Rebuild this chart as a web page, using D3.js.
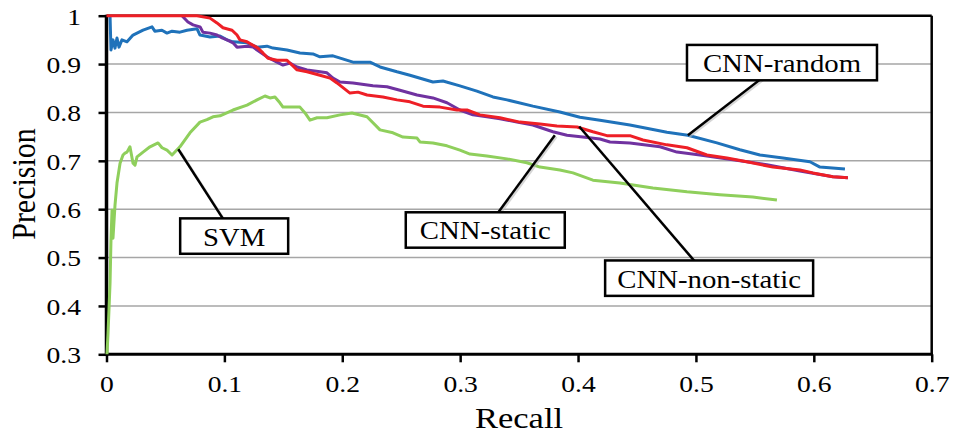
<!DOCTYPE html>
<html>
<head>
<meta charset="utf-8">
<script src="https://cdn.jsdelivr.net/npm/d3@7/dist/d3.min.js"></script>
<style>
  body { margin: 0; background: #fff; }
  svg { display: block; font-family: "Liberation Serif", "Times New Roman", serif; }
</style>
</head>
<body>
<div id="chart"></div>
<script>
// precision / recall curves as [recall, precision]
let cnnRandom = [
  [0.003, 1.0], [0.0038, 0.929], [0.0055, 0.95], [0.0072, 0.933], [0.0089, 0.954], [0.0106, 0.935],
  [0.0131, 0.95], [0.0174, 0.946], [0.0225, 0.96], [0.031, 0.97], [0.0386, 0.977], [0.041, 0.968],
  [0.047, 0.97], [0.0513, 0.964], [0.0556, 0.968], [0.0623, 0.966], [0.0683, 0.97], [0.0768, 0.973],
  [0.0793, 0.96], [0.0878, 0.956], [0.0963, 0.958], [0.1022, 0.95], [0.1073, 0.946], [0.1192, 0.944],
  [0.1277, 0.935], [0.1361, 0.937], [0.1412, 0.933], [0.1531, 0.929], [0.1641, 0.923], [0.1751, 0.921],
  [0.1811, 0.915], [0.1921, 0.917], [0.2091, 0.904], [0.2235, 0.904], [0.232, 0.894], [0.2464, 0.884],
  [0.2574, 0.877], [0.2769, 0.863], [0.2854, 0.865], [0.2998, 0.855], [0.3142, 0.844], [0.3278, 0.832],
  [0.3397, 0.826], [0.3617, 0.813], [0.3846, 0.801], [0.4016, 0.79], [0.4186, 0.784], [0.444, 0.774],
  [0.4754, 0.759], [0.4932, 0.753], [0.5178, 0.737], [0.5373, 0.723], [0.5543, 0.712], [0.5738, 0.706],
  [0.5967, 0.698], [0.6052, 0.687], [0.6264, 0.683]
];
let cnnNonStatic = [
  [0.0, 1.0], [0.0768, 1.0], [0.0878, 0.995], [0.0937, 0.985], [0.0988, 0.975], [0.1065, 0.97],
  [0.1107, 0.96], [0.1132, 0.95], [0.1192, 0.946], [0.1243, 0.939], [0.1285, 0.933], [0.1327, 0.923],
  [0.137, 0.912], [0.1446, 0.908], [0.1531, 0.908], [0.1573, 0.898], [0.1616, 0.888], [0.1701, 0.884],
  [0.1811, 0.877], [0.1896, 0.871], [0.1955, 0.861], [0.2065, 0.84], [0.2133, 0.842], [0.221, 0.836],
  [0.2345, 0.832], [0.2464, 0.826], [0.2574, 0.822], [0.2685, 0.813], [0.2829, 0.811], [0.2973, 0.805],
  [0.3058, 0.805], [0.3168, 0.795], [0.3338, 0.789], [0.3507, 0.78], [0.3677, 0.776], [0.3821, 0.772],
  [0.3991, 0.77], [0.4126, 0.76], [0.4245, 0.752], [0.444, 0.752], [0.4551, 0.743], [0.4754, 0.733],
  [0.4924, 0.727], [0.5093, 0.712], [0.5263, 0.706], [0.5432, 0.698], [0.5653, 0.687], [0.5882, 0.681],
  [0.5992, 0.675], [0.6162, 0.667], [0.6289, 0.665]
];
let cnnStatic = [
  [0.064, 1.0], [0.0691, 0.987], [0.0734, 0.981], [0.0793, 0.977], [0.0818, 0.966], [0.0878, 0.964],
  [0.0937, 0.96], [0.098, 0.954], [0.1022, 0.95], [0.1073, 0.944], [0.1107, 0.935], [0.1192, 0.937],
  [0.1243, 0.935], [0.1302, 0.925], [0.1361, 0.915], [0.1446, 0.904], [0.1497, 0.898], [0.1556, 0.902],
  [0.1616, 0.894], [0.1701, 0.888], [0.1811, 0.884], [0.187, 0.882], [0.1921, 0.871], [0.1981, 0.863],
  [0.2091, 0.861], [0.226, 0.855], [0.2379, 0.853], [0.2489, 0.846], [0.2634, 0.836], [0.2769, 0.83],
  [0.2888, 0.82], [0.2998, 0.805], [0.3108, 0.795], [0.3227, 0.791], [0.3338, 0.787], [0.3482, 0.78],
  [0.3617, 0.774], [0.3787, 0.76], [0.3906, 0.753], [0.4041, 0.749], [0.4186, 0.745], [0.4271, 0.739],
  [0.444, 0.737], [0.4695, 0.729], [0.4839, 0.718], [0.5034, 0.712], [0.5314, 0.702], [0.5602, 0.692],
  [0.5882, 0.679], [0.6162, 0.667], [0.6289, 0.665]
];
let svm = [
  [0.0004, 0.3], [0.0013, 0.344], [0.0021, 0.392], [0.003, 0.447], [0.0038, 0.536], [0.0047, 0.598],
  [0.0055, 0.54], [0.0072, 0.608], [0.0089, 0.654], [0.0115, 0.695], [0.014, 0.712], [0.0157, 0.716],
  [0.0174, 0.718], [0.0199, 0.729], [0.0225, 0.695], [0.0242, 0.691], [0.0259, 0.708], [0.031, 0.718],
  [0.0369, 0.729], [0.0437, 0.737], [0.0471, 0.727], [0.0513, 0.722], [0.0556, 0.712], [0.0623, 0.729],
  [0.0708, 0.758], [0.0793, 0.78], [0.0852, 0.785], [0.0903, 0.791], [0.0963, 0.793], [0.1073, 0.805],
  [0.1192, 0.815], [0.1277, 0.826], [0.1344, 0.834], [0.1387, 0.83], [0.1429, 0.832], [0.1471, 0.82],
  [0.1497, 0.811], [0.1582, 0.811], [0.1641, 0.811], [0.1684, 0.799], [0.1726, 0.784], [0.1786, 0.789],
  [0.187, 0.789], [0.1981, 0.795], [0.2082, 0.799], [0.221, 0.791], [0.232, 0.764], [0.243, 0.758],
  [0.2515, 0.749], [0.2634, 0.747], [0.2659, 0.739], [0.2769, 0.737], [0.2888, 0.731], [0.2998, 0.722],
  [0.3083, 0.714], [0.3227, 0.71], [0.3397, 0.704], [0.3566, 0.696], [0.3677, 0.687], [0.3846, 0.681],
  [0.3957, 0.675], [0.4126, 0.66], [0.4355, 0.654], [0.4635, 0.644], [0.4924, 0.636], [0.5203, 0.63],
  [0.5483, 0.625], [0.5687, 0.619]
];

let xTicks = [0, 0.1, 0.2, 0.3, 0.4, 0.5, 0.6, 0.7];
let yTicks = [0.3, 0.4, 0.5, 0.6, 0.7, 0.8, 0.9, 1];
let gridTicks = [0.4, 0.5, 0.6, 0.7, 0.8, 0.9];

// callouts: label, point on curve, centre of the box (both in data units)
let callouts = [
  { label: "CNN-random", point: [0.4932, 0.753], box: [0.573, 0.903], w: 190 },
  { label: "CNN-static", point: [0.3803, 0.753], box: [0.3213, 0.557], w: 159 },
  { label: "CNN-non-static", point: [0.401, 0.771], box: [0.5112, 0.4574], w: 208 },
  { label: "SVM", point: [0.0609, 0.724], box: [0.1083, 0.5444], w: 108 }
];

let width = 954, height = 437;
let plotLeft = 106.5, plotRight = 931.7, plotTop = 15.7, plotBottom = 354.3;
let stretch = 1.15; // the source figure is squashed a bit, text is wider than normal

let svg = d3.select("#chart").append("svg")
  .attr("width", width)
  .attr("height", height);

let x = d3.scaleLinear().domain([0, 0.7]).range([plotLeft, plotRight]);
let y = d3.scaleLinear().domain([0.3, 1]).range([plotBottom, plotTop]);

// grid
svg.append("g").selectAll("line")
  .data(gridTicks).enter().append("line")
  .attr("x1", plotLeft).attr("x2", plotRight)
  .attr("y1", d => y(d)).attr("y2", d => y(d))
  .attr("stroke", "#a6a6a6")
  .attr("stroke-width", 1.5);

// axes
let yAxis = svg.append("g")
  .attr("transform", "translate(" + plotLeft + ",0)")
  .call(d3.axisLeft(y).tickValues(yTicks).tickSize(8).tickFormat(d3.format("")));
let xAxis = svg.append("g")
  .attr("transform", "translate(0," + plotBottom + ")")
  .call(d3.axisBottom(x).tickValues(xTicks).tickSize(8).tickFormat(d3.format("")));

[yAxis, xAxis].forEach(function(a) {
  a.select(".domain").remove();
  a.selectAll(".tick line").attr("stroke", "#000").attr("stroke-width", 2.5);
  a.selectAll(".tick text")
    .attr("x", 0).attr("y", 0).attr("dy", null)
    .attr("fill", "#000")
    .style("font-family", "Liberation Serif, serif")
    .style("font-size", "24px");
});
yAxis.selectAll(".tick text")
  .attr("text-anchor", "end")
  .attr("transform", "translate(-25.5,8.4) scale(" + stretch + ",1)");
xAxis.selectAll(".tick text")
  .attr("text-anchor", "middle")
  .attr("transform", "translate(0,37.4) scale(" + stretch + ",1)");

// frame
svg.append("line").attr("x1", plotLeft).attr("x2", plotRight).attr("y1", plotTop).attr("y2", plotTop)
  .attr("stroke", "#000").attr("stroke-width", 2.5);
svg.append("line").attr("x1", plotRight).attr("x2", plotRight).attr("y1", plotTop).attr("y2", plotBottom)
  .attr("stroke", "#000").attr("stroke-width", 2.5);
svg.append("line").attr("x1", plotLeft).attr("x2", plotLeft).attr("y1", plotTop - 1).attr("y2", plotBottom + 1.5)
  .attr("stroke", "#000").attr("stroke-width", 3.5);
svg.append("line").attr("x1", plotLeft - 1.5).attr("x2", plotRight + 1.2).attr("y1", plotBottom).attr("y2", plotBottom)
  .attr("stroke", "#000").attr("stroke-width", 3);

// curves
let line = d3.line().x(d => x(d[0])).y(d => y(d[1]));
let series = [
  { data: svm, color: "#8fcf5c" },
  { data: cnnRandom, color: "#1f72ba" },
  { data: cnnStatic, color: "#7032a0" },
  { data: cnnNonStatic, color: "#ee1f26" }
];
svg.append("g").selectAll("path")
  .data(series).enter().append("path")
  .attr("d", d => line(d.data))
  .attr("fill", "none")
  .attr("stroke", d => d.color)
  .attr("stroke-width", 3)
  .attr("stroke-linejoin", "round");

// callouts with leader lines
let co = svg.append("g").selectAll("g")
  .data(callouts).enter().append("g");

co.append("line")
  .attr("x1", d => x(d.box[0]) + 1.5).attr("y1", d => y(d.box[1]) + 1.5)
  .attr("x2", d => x(d.point[0]) + 1.5).attr("y2", d => y(d.point[1]) + 1.5)
  .attr("stroke", "#bbb").attr("stroke-width", 2.5).attr("opacity", 0.6);
co.append("line")
  .attr("x1", d => x(d.box[0])).attr("y1", d => y(d.box[1]))
  .attr("x2", d => x(d.point[0])).attr("y2", d => y(d.point[1]))
  .attr("stroke", "#000").attr("stroke-width", 2.5);

co.append("rect")
  .attr("x", d => x(d.box[0]) - d.w / 2)
  .attr("y", d => y(d.box[1]) - 17.7)
  .attr("width", d => d.w)
  .attr("height", 35.4)
  .attr("fill", "#fff")
  .attr("stroke", "#000")
  .attr("stroke-width", 2.5);

co.append("text")
  .attr("text-anchor", "middle")
  .attr("transform", d => "translate(" + x(d.box[0]) + "," + (y(d.box[1]) + 9.5) + ") scale(" + stretch + ",1)")
  .style("font-size", "25px")
  .attr("fill", "#000")
  .text(d => d.label);

// axis titles
svg.append("text")
  .attr("text-anchor", "middle")
  .attr("transform", "translate(519,428) scale(" + stretch + ",1)")
  .style("font-size", "30px")
  .text("Recall");
svg.append("text")
  .attr("text-anchor", "middle")
  .attr("transform", "translate(35,184) scale(" + stretch + ",1) rotate(-90)")
  .style("font-size", "30px")
  .text("Precision");
</script>
</body>
</html>
